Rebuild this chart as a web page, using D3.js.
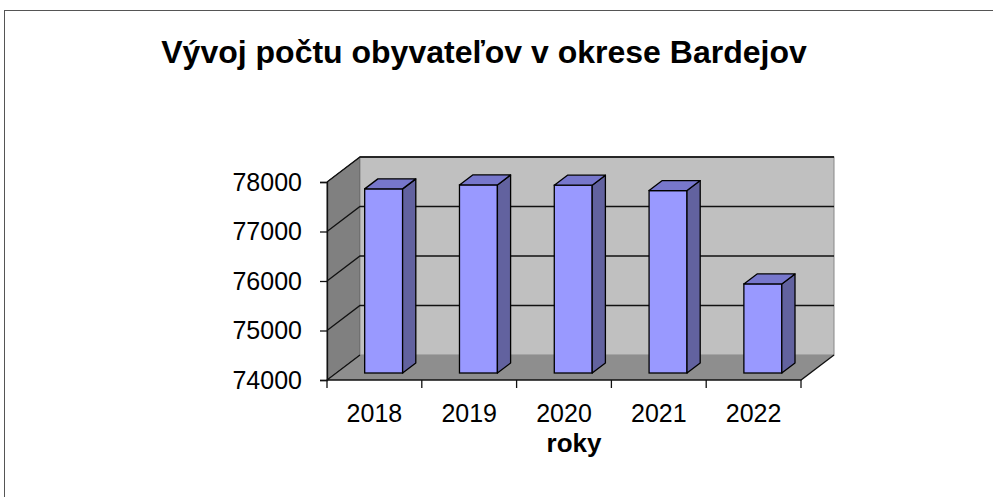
<!DOCTYPE html>
<html>
<head>
<meta charset="utf-8">
<script src="https://cdn.jsdelivr.net/npm/d3@7"></script>
<style>
  body { margin: 0; background: #fff; }
  svg { display: block; }
</style>
</head>
<body>
<svg id="chart" width="993" height="497"></svg>
<script>
const years = ['2018', '2019', '2020', '2021', '2022']
const population = [77720, 77800, 77795, 77685, 75800]
const yTicks = [74000, 75000, 76000, 77000, 78000]

const FONT = '"Liberation Sans", Arial, sans-serif'
const depthX = 33
const depthY = 25
const barFront = 0.28
const barBack = 0.68

const svg = d3.select('#chart')

// outer frame of the chart area
svg.append('rect')
  .attr('x', 4.5)
  .attr('y', 10.5)
  .attr('width', 1100)
  .attr('height', 600)
  .attr('fill', '#fff')
  .attr('stroke', '#555')
  .attr('stroke-width', 1)

svg.append('text')
  .attr('x', 484)
  .attr('y', 63)
  .attr('text-anchor', 'middle')
  .style('font-family', FONT)
  .style('font-size', '32px')
  .style('font-weight', 700)
  .text('Vývoj počtu obyvateľov v okrese Bardejov')

const x = d3.scaleBand()
  .domain(years)
  .range([327, 801])
  .paddingInner(0.6)
  .paddingOuter(0.3)

const y = d3.scaleLinear()
  .domain([74000, 78000])
  .range([380, 182])

const x0 = x.range()[0]
const x1 = x.range()[1]
const yBase = y(74000)
const yTop = y(78000)

const pts = (arr) => arr.map((p) => p.join(',')).join(' ')

// left side wall
svg.append('polygon')
  .attr('points', pts([[x0, yTop], [x0 + depthX, yTop - depthY], [x0 + depthX, yBase - depthY], [x0, yBase]]))
  .attr('fill', '#808080')
  .attr('stroke', '#333')
  .attr('stroke-width', 1)

// back wall
svg.append('rect')
  .attr('x', x0 + depthX)
  .attr('y', yTop - depthY)
  .attr('width', x1 - x0)
  .attr('height', yBase - yTop)
  .attr('fill', '#c0c0c0')
  .attr('stroke', '#888')
  .attr('stroke-width', 1)

// floor
svg.append('polygon')
  .attr('points', pts([[x0, yBase], [x0 + depthX, yBase - depthY], [x1 + depthX, yBase - depthY], [x1, yBase]]))
  .attr('fill', '#8e8e8e')

// gridlines on both walls
const grid = svg.append('g')
yTicks.forEach((t) => {
  grid.append('polyline')
    .attr('points', pts([[x0, y(t)], [x0 + depthX, y(t) - depthY], [x1 + depthX, y(t) - depthY]]))
    .attr('fill', 'none')
    .attr('stroke', '#111')
    .attr('stroke-width', t === 74000 ? 0 : 1.3)
})
svg.append('line')
  .attr('x1', x0 + depthX).attr('x2', x1 + depthX)
  .attr('y1', yTop - depthY).attr('y2', yTop - depthY)
  .attr('stroke', '#222').attr('stroke-width', 1.5)

// floor edges
svg.append('polyline')
  .attr('points', pts([[x0 + depthX, yBase - depthY], [x0, yBase], [x1, yBase], [x1 + depthX, yBase - depthY]]))
  .attr('fill', 'none')
  .attr('stroke', '#111')
  .attr('stroke-width', 1.3)

// bars
const bw = x.bandwidth()
const fx = barFront * depthX
const fy = barFront * depthY
const dx = (barBack - barFront) * depthX
const dy = (barBack - barFront) * depthY

const bars = svg.append('g')
  .selectAll('g.bar')
  .data(years.map((yr, i) => ({ year: yr, value: population[i] })))
  .enter()
  .append('g')
  .attr('class', 'bar')

bars.append('rect')
  .attr('x', (d) => x(d.year) + fx)
  .attr('y', (d) => y(d.value) - fy)
  .attr('width', bw)
  .attr('height', (d) => yBase - y(d.value))
  .attr('fill', '#9999ff')
  .attr('stroke', '#000')
  .attr('stroke-width', 1.3)

bars.append('polygon')
  .attr('points', (d) => {
    const l = x(d.year) + fx + bw
    const t = y(d.value) - fy
    const b = yBase - fy
    return pts([[l, t], [l + dx, t - dy], [l + dx, b - dy], [l, b]])
  })
  .attr('fill', '#62629f')
  .attr('stroke', '#000')
  .attr('stroke-width', 1.3)
  .attr('stroke-linejoin', 'round')

bars.append('polygon')
  .attr('points', (d) => {
    const l = x(d.year) + fx
    const t = y(d.value) - fy
    return pts([[l, t], [l + dx, t - dy], [l + bw + dx, t - dy], [l + bw, t]])
  })
  .attr('fill', '#7777cc')
  .attr('stroke', '#000')
  .attr('stroke-width', 1.3)
  .attr('stroke-linejoin', 'round')

// y axis
const yAxis = svg.append('g')
  .attr('transform', `translate(${x0},0)`)
  .call(d3.axisLeft(y).tickValues(yTicks).tickFormat(d3.format('d')).tickSize(7).tickPadding(18))
yAxis.select('.domain').attr('stroke', '#111').attr('stroke-width', 1.3)
yAxis.selectAll('.tick line').attr('stroke', '#111').attr('stroke-width', 1.3)
yAxis.selectAll('text')
  .style('font-family', FONT)
  .style('font-size', '25px')
  .attr('fill', '#000')

// x axis ticks between categories
const step = x.step()
const catTicks = d3.range(years.length + 1).map((i) => x0 + i * step)
svg.append('g')
  .selectAll('line')
  .data(catTicks)
  .enter()
  .append('line')
  .attr('x1', (d) => d).attr('x2', (d) => d)
  .attr('y1', yBase).attr('y2', yBase + 8)
  .attr('stroke', '#111')
  .attr('stroke-width', 1.3)

svg.append('g')
  .selectAll('text')
  .data(years)
  .enter()
  .append('text')
  .attr('x', (d) => x(d) + bw / 2)
  .attr('y', 422)
  .attr('text-anchor', 'middle')
  .style('font-family', FONT)
  .style('font-size', '25px')
  .text((d) => d)

svg.append('text')
  .attr('x', 574)
  .attr('y', 452)
  .attr('text-anchor', 'middle')
  .style('font-family', FONT)
  .style('font-size', '26px')
  .style('font-weight', 700)
  .text('roky')
</script>
</body>
</html>
